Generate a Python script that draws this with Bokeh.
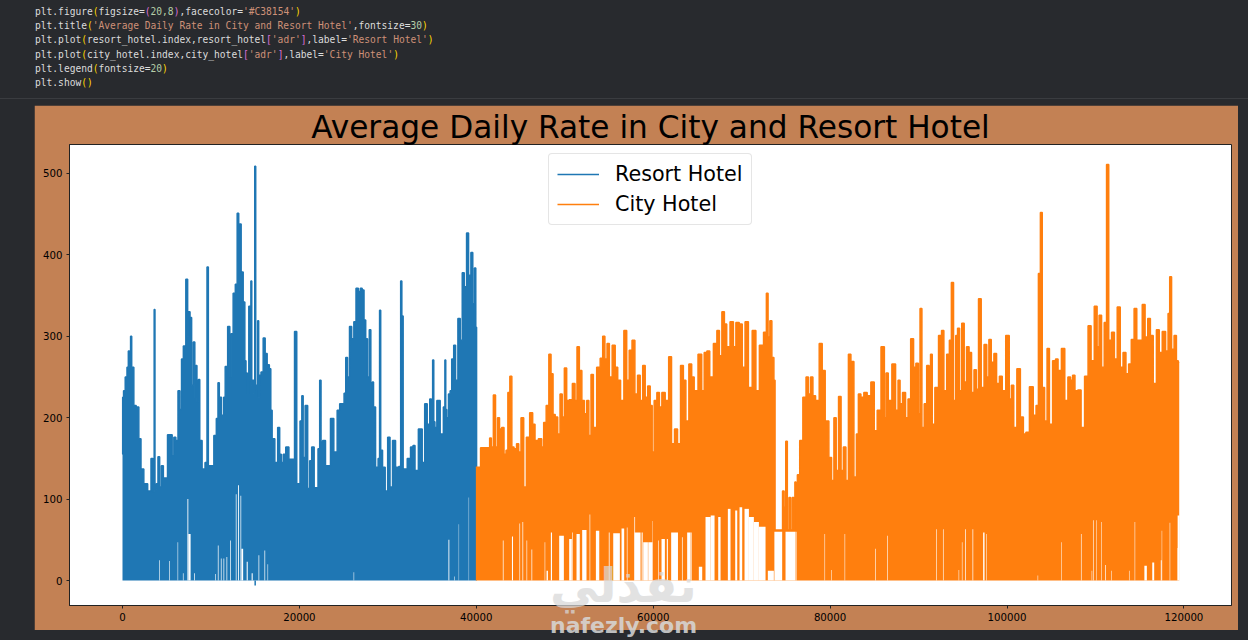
from bokeh.plotting import figure
from bokeh.models import Div, Legend, LegendItem, FixedTicker, NumeralTickFormatter, Range1d
from bokeh.layouts import column
from bokeh.embed import file_html
from bokeh.resources import INLINE

TITLE = "Average Daily Rate in City and Resort Hotel"
SERIES_NAMES = ["Resort Hotel", "City Hotel"]
X_TICKS = [0, 20000, 40000, 60000, 80000, 100000, 120000]
Y_TICKS = [0, 100, 200, 300, 400, 500]

# (row index, highest adr read in that pixel column)
resort_points = [
    (0,155),(40,225),(200,233),(415,250),(600,262),(717,282),(850,270),(980,300),(1100,262),(1206,262),
    (1357,215),(1734,213),(1960,174),(2220,137),(2600,119),(3090,110),(3355,150),(3540,109),(3620,333),(3720,112),
    (3920,119),(4100,152),(4300,115),(4490,141),(4750,126),(5050,126),(5130,179),(5500,179),(5730,153),(5880,176),
    (6180,172),(6370,233),(6600,210),(6750,272),(7010,288),(7310,370),(7420,300),(7540,330),(7730,323),(7900,240),
    (8100,293),(8250,225),(8330,264),(8500,220),(8670,247),(8800,172),(9200,137),(9460,145),(9650,385),(9760,141),
    (9875,141),(10140,141),(10515,178),(10700,199),(10890,243),(11000,225),(11380,203),(11500,225),(11720,263),(12060,312),
    (12200,250),(12360,303),(12660,353),(12850,364),(13080,451),(13200,390),(13300,438),(13530,379),(13760,342),(13900,270),
    (14020,255),(14200,230),(14360,337),(14480,245),(14550,368),(14680,240),(14780,246),(14900,230),(15000,509),(15120,240),
    (15230,240),(15340,319),(15450,225),(15530,252),(15790,256),(16020,298),(16240,279),(16470,265),(16730,260),(16800,209),
    (17035,174),(17410,145),(17680,188),(17860,155),(18050,145),(18300,155),(18620,164),(19000,149),(19260,149),(19640,306),
    (19760,119),(19940,119),(20200,196),(20350,227),(20500,151),(20800,215),(21070,113),(21260,147),(21520,164),(21820,114),
    (22010,114),(22200,162),(22390,246),(22500,170),(22760,172),(23140,141),(23330,141),(23700,199),(24080,158),(24460,209),
    (24650,217),(24950,217),(25150,230),(25330,274),(25550,250),(25780,312),(26040,297),(26270,318),(26530,359),(26800,355),
    (26980,359),(27210,357),(27400,320),(27590,297),(27800,250),(28000,308),(28150,230),(28340,244),(28420,213),(28800,139),
    (29000,150),(29130,332),(29250,160),(29550,139),(29850,110),(30110,176),(30380,115),(30680,172),(31060,139),(31400,140),
    (31500,368),(31660,325),(31800,137),(32000,137),(32380,150),(32750,164),(32940,166),(33200,135),(33700,186),(34070,145),
    (34260,217),(34640,192),(34830,223),(35000,200),(35130,271),(35250,195),(35390,188),(35690,221),(36145,180),(36410,213),
    (36490,271),(36600,210),(36710,200),(37000,229),(37090,233),(37350,272),(37540,289),(37770,246),(38070,322),(38300,295),
    (38520,378),(38750,361),(39050,427),(39200,360),(39280,375),(39500,403),(39700,340),(39880,384),(40000,311),(40060,100),
]
# (first row, last row, adr below which these rows leave the plot empty)
resort_gaps = [
    (4150,4220,25),(5280,5350,24),(6230,6290,47),(6830,6900,9),(7340,7440,100),(7440,7700,57),(8100,8180,9),
    (10480,10550,8),(10780,10860,43),(11120,11200,27),(11420,11500,27),(11760,11840,29),(12170,12250,49),
    (12810,12890,106),(13060,13160,117),(13340,13420,104),(13440,13640,39),(14040,14160,23),(14600,14720,9),
    (15380,15460,31),(16050,16130,37),(16400,16460,20),(26130,26190,10),(36850,36950,50),(37500,37560,5),
    (38010,38050,69),(39140,39180,102),
]
resort_dip_index = [15000]
resort_dip_adr = [-6]

city_points = [
    (39950,139),(40300,139),(40665,163),(41050,163),(41420,163),(41600,175),(41795,164),(42060,228),(42285,164),(42510,200),
    (42740,186),(43000,188),(43265,155),(43460,160),(43680,231),(43905,251),(44130,164),(44400,162),(44700,168),(44885,158),
    (45225,200),(45490,115),(45830,176),(46240,206),(46505,192),(46770,172),(47260,174),(47525,164),(47710,194),(48090,215),
    (48315,278),(48580,254),(48770,204),(49070,201),(49335,180),(49600,229),(49825,201),(50085,261),(50350,221),(50650,222),
    (51070,242),(51250,221),(51520,287),(51780,258),(52085,221),(52350,205),(52610,221),(52840,178),(53100,253),(53370,188),
    (53850,262),(54160,273),(54420,300),(54650,272),(54910,291),(55175,250),(55550,289),(55855,262),(56120,246),(56500,221),
    (56870,307),(57135,246),(57440,283),(57775,295),(58080,229),(58380,252),(58680,221),(58945,264),(59245,225),(59510,239),
    (59810,215),(59960,158),(60260,221),(60570,231),(60830,213),(61130,231),(61580,221),(61920,275),(62220,168),(62600,186),
    (62900,168),(63280,264),(63540,246),(63845,196),(64220,266),(64480,250),(64785,233),(65350,278),(65615,233),(65917,280),
    (66220,282),(66560,250),(67050,291),(67350,307),(67615,276),(67915,330),(68180,315),(68440,287),(68930,318),(69200,287),
    (69500,317),(69950,315),(70180,262),(70590,318),(70930,237),(71455,307),(71760,233),(72250,289),(72700,305),(72890,353),
    (73080,299),(73300,319),(73530,274),(73760,246),(73790,62),(74000,62),(74400,62),(74550,62),(74700,110),(74900,90),
    (75075,171),(75250,62),(75450,102),(75600,62),(75830,102),(75950,62),(76090,121),(76200,110),(76400,130),(76730,172),
    (77110,225),(77450,250),(77640,229),(77940,250),(78170,227),(78540,221),(78995,291),(79220,258),(79670,196),(80050,151),
    (80280,123),(80580,200),(80800,135),(81110,226),(81370,135),(81630,164),(81940,123),(82200,278),(82500,269),(82880,127),
    (83065,180),(83330,229),(83630,225),(84000,231),(84380,227),(84835,244),(85140,184),(85510,209),(86000,287),(86270,200),
    (86380,255),(86760,221),(87210,266),(87590,209),(87775,246),(88040,217),(88340,231),(88720,200),(88900,223),(89320,297),
    (89550,262),(89850,267),(90110,205),(90225,334),(90530,188),(90750,217),(91090,264),(91280,205),(91430,278),(91660,192),
    (92030,237),(92490,301),(92710,307),(93010,233),(93350,278),(93620,295),(93800,366),(94110,221),(94300,301),(94520,310),
    (94750,233),(95010,316),(95310,244),(95540,287),(95880,280),(96100,231),(96440,259),(96630,235),(96930,346),(97235,237),
    (97575,290),(97840,250),(98065,296),(98370,268),(98670,279),(98970,242),(99310,251),(99610,233),(100100,301),(100400,223),
    (100590,240),(100930,188),(101300,260),(101720,201),(101980,180),(102290,182),(102780,238),(103150,203),(103420,215),(103680,377),
    (103870,452),(104100,237),(104400,196),(104660,285),(104930,192),(105380,270),(105600,272),(105940,258),(106360,285),(106700,221),
    (107070,250),(107300,246),(107530,252),(107830,233),(108170,234),(108580,188),(108960,251),(109370,313),(109640,270),(110090,337),
    (110280,287),(110540,326),(110840,262),(111140,317),(111370,511),(111630,295),(112010,305),(112270,272),(112650,336),(112950,262),
    (113290,280),(113600,254),(113900,266),(114200,296),(114540,334),(114800,295),(115100,295),(115480,339),(115740,299),(116080,322),
    (116340,301),(116720,242),(117060,308),(117360,280),(117740,306),(118120,282),(118300,328),(118490,373),(118720,284),(119060,301),
    (119245,270),(119470,268),
]
city_gaps = [
    (43000,43080,49),(44030,44150,54),(44880,44950,70),(45220,45300,72),(45680,45750,49),(46240,46320,38),(47730,47790,47),
    (47940,48100,12),(48430,48560,59),(49370,49900,55),(50500,50800,51),(50860,50930,59),(51330,51700,57),(51970,52460,62),
    (52810,52880,81),(53520,53900,61),(54980,55070,59),(55480,56230,58),(56420,56720,64),(57020,57090,65),(57870,57950,78),
    (57890,58570,59),(58690,58810,59),(58870,59400,47),(59440,59920,47),(59920,59960,73),(60570,60640,49),(60940,61320,51),
    (61540,61660,51),(62030,62800,59),(63250,63330,53),(63840,64220,59),(64240,64340,59),(65160,65540,17),(65915,66500,78),
    (66500,66935,80),(67350,67615,78),(68440,68740,88),(69270,69500,86),(69760,70060,90),(70325,70820,88),(70820,71380,78),
    (71380,71950,72),(71950,72700,66),(72960,73640,12),(73700,74580,60),(74960,76060,60),(76090,76200,60),
    (79370,79430,57),(80130,80190,13),(81640,81700,57),(85100,85170,39),(86460,86530,55),(92000,92070,63),(92760,92830,63),
    (94530,94590,13),(94900,94960,47),(95270,95350,63),(96100,96180,63),(97300,97460,59),(97660,97720,57),(103460,103520,6),
    (106140,106200,47),(108360,108430,57),(109570,109630,12),(109720,109790,74),(110095,110150,74),(110660,110720,72),
    (111100,111180,19),(111790,111850,12),(113790,113850,12),(114430,114490,72),(115530,115810,18),(116420,116640,22),
    (117390,117490,25),(117490,117540,61),(118390,118450,71),(119240,119290,40),(119290,119520,80),
]

resort_index = [p[0] for p in resort_points]
resort_adr = [p[1] for p in resort_points]
city_index = [p[0] for p in city_points]
city_adr = [p[1] for p in city_points]

BLUE, ORANGE = "#1f77b4", "#ff7f0e"
PANEL, PAGE = "#c38154", "#282a2e"

kw, st, nm, fn, pn = ("#dcdcdc", "#ce9178", "#b5cea8", "#ffd700", "#da70d6")
def s(text, color):
    return f'<span style="color:{color}">{text}</span>'
code_lines = [
    s("plt.figure", kw) + s("(", fn) + s("figsize=", kw) + s("(", pn) + s("20,8", nm) + s(")", pn) + s(",facecolor=", kw) + s("'#C38154'", st) + s(")", fn),
    s("plt.title", kw) + s("(", fn) + s("'Average Daily Rate in City and Resort Hotel'", st) + s(",fontsize=", kw) + s("30", nm) + s(")", fn),
    s("plt.plot", kw) + s("(", fn) + s("resort_hotel.index,resort_hotel", kw) + s("[", pn) + s("'adr'", st) + s("]", pn) + s(",label=", kw) + s("'Resort Hotel'", st) + s(")", fn),
    s("plt.plot", kw) + s("(", fn) + s("city_hotel.index,city_hotel", kw) + s("[", pn) + s("'adr'", st) + s("]", pn) + s(",label=", kw) + s("'City Hotel'", st) + s(")", fn),
    s("plt.legend", kw) + s("(", fn) + s("fontsize=", kw) + s("20", nm) + s(")", fn),
    s("plt.show", kw) + s("()", fn),
]
code = Div(
    text='<pre style="margin:5px 0 0 35px;font:9.6px/14.2px \'DejaVu Sans Mono\',monospace;">' + "\n".join(code_lines) + "</pre>",
    width=1248, height=99,
    styles={"background": PAGE, "border-bottom": "1px solid #3a3c40", "box-sizing": "border-box", "overflow": "hidden"},
    margin=(0, 0, 0, 0),
)

p = figure(width=1204, height=525, output_backend="svg", toolbar_location=None,
           x_range=Range1d(-5992, 125380), y_range=Range1d(-30.7, 535.6),
           min_border_left=35, min_border_right=7, min_border_top=39, min_border_bottom=25,
           background_fill_color="white", border_fill_color=PANEL,
           outline_line_color="#222222", outline_line_width=1,
           margin=(6, 0, 0, 34))

p.title.text = TITLE
p.title.align = "center"
p.title.text_font = "DejaVu Sans"
p.title.text_font_size = "31.2px"
p.title.text_font_style = "normal"
p.title.text_color = "#000000"
p.title.standoff = 0

p.grid.visible = False
for ax, ticks in ((p.xaxis[0], X_TICKS), (p.yaxis[0], Y_TICKS)):
    ax.ticker = FixedTicker(ticks=ticks)
    ax.formatter = NumeralTickFormatter(format="0")
    ax.major_tick_in = 0
    ax.major_tick_out = 3
    ax.minor_tick_line_color = None
    ax.axis_line_color = "#222222"
    ax.major_tick_line_color = "#222222"
    ax.major_label_text_font = "DejaVu Sans"
    ax.major_label_text_font_size = "10.2px"
    ax.major_label_text_color = "#000000"
    ax.major_label_standoff = 4

p.varea_step(x=resort_index, y1=[0] * len(resort_index), y2=resort_adr, step_mode="center", fill_color=BLUE)
p.quad(left=[g[0] for g in resort_gaps], right=[g[1] for g in resort_gaps], bottom=0,
       top=[g[2] for g in resort_gaps], fill_color="white", line_color=None)
p.segment(x0=resort_dip_index, y0=[0], x1=resort_dip_index, y1=resort_dip_adr, line_color=BLUE, line_width=1.5)
resort_line = p.step(resort_index, resort_adr, mode="center", line_color=BLUE, line_width=1.5)

p.varea_step(x=city_index, y1=[0] * len(city_index), y2=city_adr, step_mode="center", fill_color=ORANGE)
p.quad(left=[g[0] for g in city_gaps], right=[g[1] for g in city_gaps], bottom=0,
       top=[g[2] for g in city_gaps], fill_color="white", line_color=None)
city_line = p.step(city_index, city_adr, mode="center", line_color=ORANGE, line_width=1.5)

legend = Legend(items=[LegendItem(label=SERIES_NAMES[0], renderers=[resort_line]),
                       LegendItem(label=SERIES_NAMES[1], renderers=[city_line])],
                location=(479, 380), orientation="vertical",
                label_text_font="DejaVu Sans", label_text_font_size="20.7px", label_text_color="#000000",
                glyph_width=42, glyph_height=24, label_height=24, label_standoff=16,
                spacing=6, padding=8, margin=0,
                background_fill_color="white", background_fill_alpha=0.85,
                border_line_color="#cccccc", border_line_width=1, border_radius=4)
p.add_layout(legend)

watermark = (
    '<div style="position:absolute;left:550px;top:556px;z-index:9;font:bold 48px/58px \'DejaVu Sans\';'
    'color:#d8d8d8;opacity:.72;pointer-events:none;">نفذلي</div>'
    '<div style="position:absolute;left:550px;top:615px;z-index:9;font:bold 22px/22px \'DejaVu Sans\';'
    'color:#d8d8d8;opacity:.85;pointer-events:none;">nafezly.com</div>'
)

page = column(code, p, margin=(0, 0, 0, 0), styles={"background": PAGE})
html = file_html(page, INLINE, title=TITLE)
html = html.replace("<head>", f"<head><style>html,body{{background:{PAGE};margin:0;}}</style>", 1)
html = html.replace("</body>", watermark + "</body>", 1)
open("out.html", "w", encoding="utf-8").write(html)
